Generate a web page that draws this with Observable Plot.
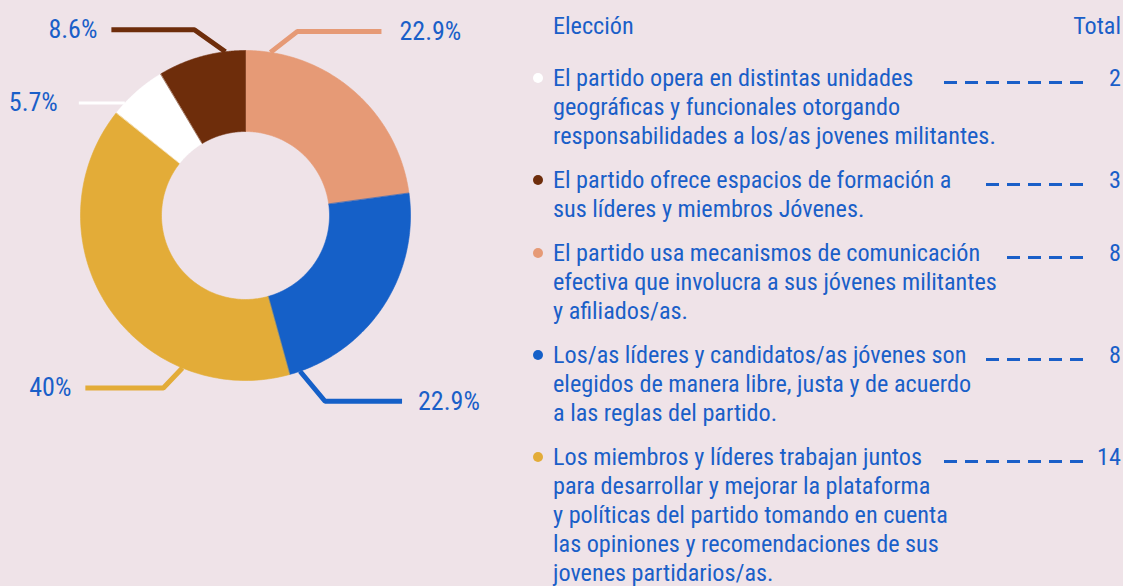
<!DOCTYPE html>
<html>
<head>
<meta charset="utf-8">
<script src="https://cdn.jsdelivr.net/npm/d3@7"></script>
<script src="https://cdn.jsdelivr.net/npm/@observablehq/plot@0.6"></script>
<style>
  html, body { margin: 0; padding: 0; background: #EFE3E8; }
  #wrap { position: relative; width: 1123px; height: 586px; overflow: hidden;
          font-family: "Liberation Sans Narrow", "Roboto Condensed", "DejaVu Sans Condensed", "Liberation Sans", sans-serif; color: #1A5FC8; }
  #chart { position: absolute; left: 0; top: 0; }
  #legend { position: absolute; left: 531px; top: 0; width: 590px; font-size: 24.2px; line-height: 29px; }
  .hdr { display: flex; justify-content: space-between; padding-top: 12px; padding-left: 22px; }
  .row { position: relative; padding-left: 22px; margin-top: 15px; }
  .row.first { margin-top: 23px; }
  .bullet { position: absolute; left: 2px; top: 9px; width: 10px; height: 10px; border-radius: 50%; }
  .l1 { display: flex; align-items: flex-start; }
  .l1 .txt { white-space: nowrap; }
  .dashbox { flex: 1; display: flex; justify-content: flex-end; margin-left: 14px; }
  .dash { height: 3px; margin-top: 17px;
          background-image: linear-gradient(to right, #1A5FC8 0, #1A5FC8 13px, transparent 13px, transparent 21px);
          background-size: 21px 3px; background-repeat: repeat-x; background-position: left center; }
  .gapend { width: 8px; flex: none; }
  .tot { width: 30px; text-align: right; flex: none; }
  .rest { white-space: nowrap; }
</style>
</head>
<body>
<div id="wrap">
  <div id="chart"></div>
  <div id="legend"></div>
</div>
<script>
// ---- data ----
const categoryLines = [
  ["El partido opera en distintas unidades", "geográficas y funcionales otorgando", "responsabilidades a los/as jovenes militantes."],
  ["El partido ofrece espacios de formación a", "sus líderes y miembros Jóvenes."],
  ["El partido usa mecanismos de comunicación", "efectiva que involucra a sus jóvenes militantes", "y afiliados/as."],
  ["Los/as líderes y candidatos/as jóvenes son", "elegidos de manera libre, justa y de acuerdo", "a las reglas del partido."],
  ["Los miembros y líderes trabajan juntos", "para desarrollar y mejorar la plataforma", "y políticas del partido tomando en cuenta", "las opiniones y recomendaciones de sus", "jovenes partidarios/as."]
];
const totals = [2, 3, 8, 8, 14];
const percentLabels = ["5.7%", "8.6%", "22.9%", "22.9%", "40%"];
const colors = ["#FFFFFF", "#6E2D0B", "#E69A76", "#1560C8", "#E3AC38"];
const sliceOrder = [2, 3, 4, 0, 1]; // clockwise from 12 o'clock
const headerLeft = "Elección";
const headerRight = "Total";

// ---- layout (not data) ----
const R_OUT = 165, R_IN = 84;
// leader line: anchor angle on outer edge (deg clockwise from top), elbow offset, horizontal run (signed), label gap
const leaderLayout = [
  {i: 0, angle: 313, elbow: [0, 0], run: -46, w: 3, gap: 21},
  {i: 1, angle: 353, elbow: [-31, 22], run: -83, w: 5, gap: 14},
  {i: 2, angle: 8.7, elbow: [27, 21], run: 84, w: 5, gap: 18},
  {i: 3, angle: 160.7, elbow: [25, -30], run: 77, w: 5, gap: 16},
  {i: 4, angle: 202.5, elbow: [-19, -20], run: -78, w: 5, gap: 14}
];

// ---- build slices ----
const ordered = sliceOrder.map(i => ({i, value: totals[i]}));
const arcs = d3.pie().sort(null).value(d => d.value)(ordered);
const polyPts = [];
for (const a of arcs) {
  const n = 120;
  const key = a.data.i;
  for (let k = 0; k <= n; k++) {
    const t = a.startAngle + (a.endAngle - a.startAngle) * k / n;
    polyPts.push({key, color: colors[key], x: R_OUT * Math.sin(t), y: R_OUT * Math.cos(t)});
  }
  for (let k = n; k >= 0; k--) {
    const t = a.startAngle + (a.endAngle - a.startAngle) * k / n;
    polyPts.push({key, color: colors[key], x: R_IN * Math.sin(t), y: R_IN * Math.cos(t)});
  }
}

// ---- leader lines and labels ----
const leaderPts = [];
const labelData = [];
for (const L of leaderLayout) {
  const t = L.angle * Math.PI / 180;
  const ax = R_OUT * Math.sin(t), ay = R_OUT * Math.cos(t);
  const ex = ax + L.elbow[0], ey = ay + L.elbow[1];
  const fx = ex + L.run;
  leaderPts.push({key: L.i, color: colors[L.i], x: ax, y: ay});
  leaderPts.push({key: L.i, color: colors[L.i], x: ex, y: ey});
  leaderPts.push({key: L.i, color: colors[L.i], x: fx, y: ey});
  const right = L.run > 0;
  labelData.push({x: fx + (right ? L.gap : -L.gap), y: ey, text: percentLabels[L.i], anchor: right ? "start" : "end"});
}

const FONT = "'Liberation Sans Narrow', 'Roboto Condensed', 'DejaVu Sans Condensed', sans-serif";
const chart = Plot.plot({
  width: 500,
  height: 586,
  margin: 0,
  style: {background: "transparent", overflow: "visible"},
  x: {domain: [-245, 255], range: [0, 500], axis: null},
  y: {domain: [-371, 215], range: [586, 0], axis: null},
  color: {type: "identity"},
  marks: [
    Plot.line(polyPts, {x: "x", y: "y", z: "key", fill: "color", stroke: "color", strokeWidth: 0.6, curve: "linear-closed"}),
    ...leaderLayout.map(L => Plot.line(leaderPts.filter(d => d.key === L.i), {x: "x", y: "y", stroke: "color", strokeWidth: L.w, strokeLinejoin: "miter", strokeLinecap: "butt"})),
    Plot.text(labelData.filter(d => d.anchor === "start"), {x: "x", y: "y", text: "text", textAnchor: "start", fill: "#1A5FC8", fontSize: 26, fontFamily: FONT}),
    Plot.text(labelData.filter(d => d.anchor === "end"), {x: "x", y: "y", text: "text", textAnchor: "end", fill: "#1A5FC8", fontSize: 26, fontFamily: FONT})
  ]
});
document.getElementById("chart").appendChild(chart);

// ---- legend ----
const leg = document.getElementById("legend");
const hdr = document.createElement("div");
hdr.className = "hdr";
hdr.innerHTML = `<span>${headerLeft}</span><span>${headerRight}</span>`;
leg.appendChild(hdr);
const dashEls = [];
categoryLines.forEach((lines, i) => {
  const row = document.createElement("div");
  row.className = "row" + (i === 0 ? " first" : "");
  const b = document.createElement("div");
  b.className = "bullet";
  b.style.background = colors[i];
  row.appendChild(b);
  const l1 = document.createElement("div");
  l1.className = "l1";
  l1.innerHTML = `<span class="txt">${lines[0]}</span><span class="dashbox"><span class="dash"></span></span><span class="gapend"></span>`;
  const tot = document.createElement("span");
  tot.className = "tot";
  tot.textContent = totals[i];
  l1.appendChild(tot);
  row.appendChild(l1);
  lines.slice(1).forEach(s => {
    const d = document.createElement("div");
    d.className = "rest";
    d.textContent = s;
    row.appendChild(d);
  });
  leg.appendChild(row);
  dashEls.push(l1);
});
// fit a whole number of dashes, aligned to the right
for (const l1 of dashEls) {
  const box = l1.querySelector(".dashbox");
  const dash = l1.querySelector(".dash");
  const w = box.getBoundingClientRect().width;
  const n = Math.max(1, Math.floor((w + 8) / 21));
  dash.style.width = (n * 21 - 8) + "px";
}
</script>
</body>
</html>
